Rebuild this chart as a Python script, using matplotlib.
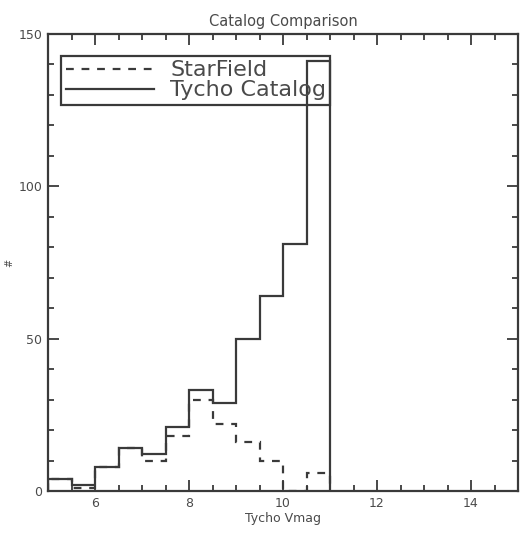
import numpy as np
import matplotlib as mpl
mpl.use('Agg')
import matplotlib.pyplot as plt
from matplotlib.ticker import MultipleLocator

# histogram bins (Tycho Vmag), width 0.5
bin_edges = [5.0, 5.5, 6.0, 6.5, 7.0, 7.5, 8.0, 8.5, 9.0, 9.5, 10.0, 10.5, 11.0]
tycho_counts = [4, 2, 8, 14, 12, 21, 33, 29, 50, 64, 81, 141]
starfield_counts = [4, 1, 8, 14, 10, 18, 30, 22, 16, 10, 0, 6]

x_ticks = [6, 8, 10, 12, 14]
y_ticks = [0, 50, 100, 150]

INK = '#3a3a3a'
TXT = '#4a4a4a'

fig = plt.figure(figsize=(5.25, 5.39), dpi=100)
ax = fig.add_axes([48 / 525, 1 - 491 / 539, 470 / 525, 457 / 539])

ax.stairs(starfield_counts, bin_edges, baseline=0, color=INK, lw=1.6,
          linestyle=(0, (3.5, 3.5)), label='StarField')
ax.stairs(tycho_counts, bin_edges, baseline=0, color=INK, lw=1.6,
          label='Tycho Catalog')

ax.set_xlim(5, 15)
ax.set_ylim(0, 150)
ax.set_xticks(x_ticks)
ax.set_yticks(y_ticks)
ax.xaxis.set_minor_locator(MultipleLocator(0.5))
ax.yaxis.set_minor_locator(MultipleLocator(10))
ax.tick_params(which='both', direction='in', top=True, right=True,
               color=INK, width=1.3, labelsize=9, labelcolor=TXT, pad=4)
ax.tick_params(which='major', length=8)
ax.tick_params(which='minor', length=4)
for s in ax.spines.values():
    s.set_color(INK)
    s.set_linewidth(1.6)

ax.set_title('Catalog Comparison', fontsize=10.5, color=TXT, pad=6)
ax.set_xlabel('Tycho Vmag', fontsize=9, color=TXT, labelpad=2)
ax.set_ylabel('#', fontsize=7, color=TXT)
ax.yaxis.set_label_coords(-0.072, 0.5)

leg = ax.legend(loc='upper left', bbox_to_anchor=(0.028, 0.952),
                fontsize=16, handlelength=4.0, handletextpad=0.7,
                labelspacing=0.0, borderpad=0.2, borderaxespad=0,
                fancybox=False, frameon=True, framealpha=1)
leg.get_frame().set_edgecolor(INK)
leg.get_frame().set_facecolor('none')
leg.get_frame().set_linewidth(1.6)
for t in leg.get_texts():
    t.set_color(TXT)

plt.savefig('out.png', dpi=100)
